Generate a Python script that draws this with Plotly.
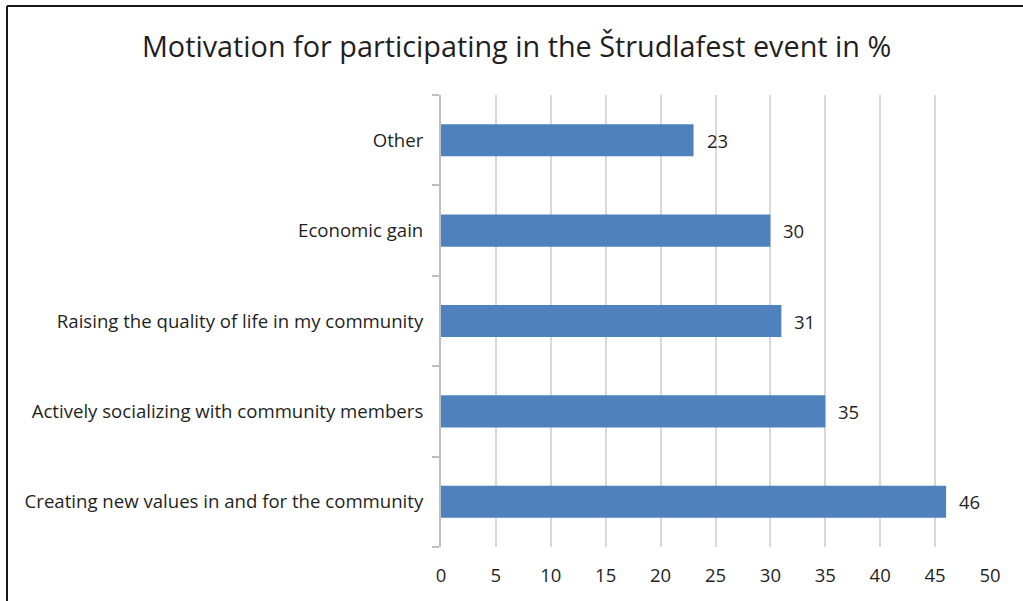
import plotly.graph_objects as go

# Survey results: motivation for participating in Štrudlafest (%)
categories = [
    "Creating new values in and for the community",
    "Actively socializing with community members",
    "Raising the quality of life in my community",
    "Economic gain",
    "Other",
]
values = [46, 35, 31, 30, 23]
x_ticks = [0, 5, 10, 15, 20, 25, 30, 35, 40, 45, 50]

W, H = 1023, 601
L, R, T, B = 441, 33, 95, 54
FONT = "Open Sans, sans-serif"
TEXT = "#1f1f1f"

fig = go.Figure(
    go.Bar(
        y=categories,
        x=values,
        orientation="h",
        marker=dict(color="#4f81bd", line=dict(width=0)),
        width=0.355,
        hoverinfo="x+y",
    )
)

# value labels placed just to the right of each bar
for cat, v in zip(categories, values):
    fig.add_annotation(
        x=v, y=cat, text=str(v), showarrow=False,
        xanchor="left", xshift=11,
        font=dict(family=FONT, size=18.5, color=TEXT),
    )

pw = W - L - R
ph = H - T - B
# frame lines along the top and left edges of the page
fig.add_shape(type="line", xref="paper", yref="paper",
              x0=(7 - L) / pw, x1=(W - L) / pw,
              y0=(H - B - 6) / ph, y1=(H - B - 6) / ph,
              line=dict(color="#1a1a1a", width=2))
fig.add_shape(type="line", xref="paper", yref="paper",
              x0=(7 - L) / pw, x1=(7 - L) / pw,
              y0=(H - B - 6) / ph, y1=-B / ph,
              line=dict(color="#1a1a1a", width=2))

fig.update_layout(
    width=W, height=H,
    margin=dict(l=L, r=R, t=T, b=B),
    paper_bgcolor="white", plot_bgcolor="white",
    showlegend=False,
    title=dict(
        text="Motivation for participating in the Štrudlafest event in %",
        x=0.505, xanchor="center", y=1 - 47 / H, yanchor="middle",
        font=dict(family=FONT, size=28.8, color=TEXT),
    ),
    font=dict(family=FONT, color=TEXT),
)

fig.update_xaxes(
    range=[0, 50],
    tickvals=x_ticks,
    ticktext=[str(t) for t in x_ticks],
    showgrid=True, gridcolor="#d9d9d9", gridwidth=2,
    zeroline=False, showline=False, ticks="",
    tickfont=dict(family=FONT, size=18.5, color=TEXT),
    ticklabelstandoff=15,
    fixedrange=True,
)
fig.update_yaxes(
    categoryorder="array", categoryarray=categories,
    showgrid=False, zeroline=False,
    showline=True, linecolor="#bfbfbf", linewidth=2,
    ticks="outside", tickson="boundaries", ticklen=7,
    tickcolor="#bfbfbf", tickwidth=2,
    tickfont=dict(family=FONT, size=18.6, color=TEXT),
    ticklabelstandoff=12,
    fixedrange=True,
)

fig.write_html("out.html")
